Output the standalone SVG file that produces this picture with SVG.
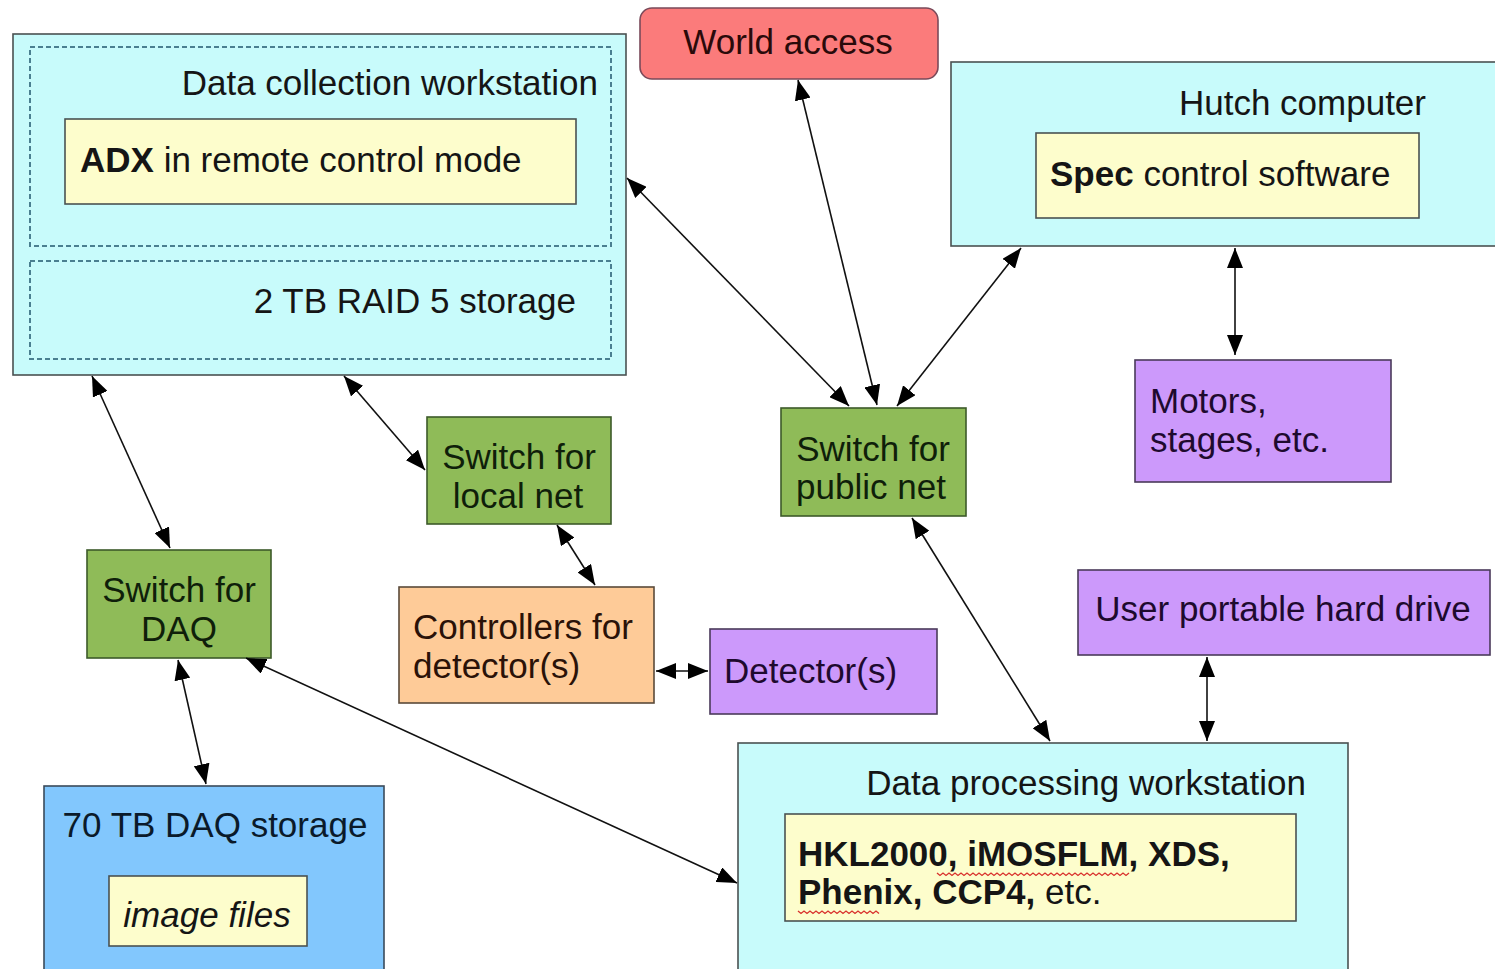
<svg xmlns="http://www.w3.org/2000/svg" width="1495" height="969" viewBox="0 0 1495 969">
  <style>
    text { font-family: "Liberation Sans", Arial, sans-serif; font-size: 35px; fill: #151515; }
    .b { font-weight: bold; }
    .it { font-style: italic; }
    .mid { text-anchor: middle; }
    .end { text-anchor: end; }
    .box { stroke: #4a5252; stroke-width: 1.6; }
    .cyan { fill: #c8fbfb; }
    .yel { fill: #fdfdcc; }
    .green { fill: #8fbb58; stroke: #3c5a2a; stroke-width: 1.6; }
    .purple { fill: #cc99fb; stroke: #4a3a5a; stroke-width: 1.6; }
    .orange { fill: #fecb98; stroke: #5a4a3a; stroke-width: 1.6; }
    .blue { fill: #82c7fd; stroke: #3a4a5a; stroke-width: 1.6; }
    .red { fill: #fb7b7b; stroke: #7a4a5a; stroke-width: 1.6; }
    .dash { fill: none; stroke: #4a7f90; stroke-width: 2; stroke-dasharray: 5 3; }
    .wave { fill: none; stroke: #d8302c; stroke-width: 1.3; }
    .conn line { stroke: #111; stroke-width: 1.6; marker-start: url(#ah); marker-end: url(#ah); }
  </style>
  <defs>
    <marker id="ah" viewBox="0 0 20 16" refX="20" refY="8" markerWidth="20" markerHeight="16" markerUnits="userSpaceOnUse" orient="auto-start-reverse">
      <path d="M0,0 L20,8 L0,16 Z" fill="#000"/>
    </marker>
  </defs>

  <rect width="1495" height="969" fill="#ffffff"/>

  <!-- Data collection workstation -->
  <g id="data-collection">
    <rect class="box cyan" x="13" y="34" width="613" height="341"/>
    <rect class="dash" x="30" y="47" width="581" height="199"/>
    <rect class="dash" x="30" y="261" width="581" height="98"/>
    <text class="end" x="598" y="95">Data collection workstation</text>
    <rect class="box yel" x="65" y="119" width="511" height="85"/>
    <text x="80" y="172"><tspan class="b">ADX</tspan> in remote control mode</text>
    <text class="end" x="576" y="313">2 TB RAID 5 storage</text>
  </g>

  <!-- World access -->
  <g id="world-access">
    <rect class="red" x="640" y="8" width="298" height="71" rx="12"/>
    <text class="mid" x="788" y="54" style="fill:#2a0a0a">World access</text>
  </g>

  <!-- Hutch computer -->
  <g id="hutch-computer">
    <rect class="box cyan" x="951" y="62" width="560" height="184"/>
    <text class="end" x="1426" y="115">Hutch computer</text>
    <rect class="box yel" x="1036" y="133" width="383" height="85"/>
    <text x="1050" y="186"><tspan class="b">Spec</tspan> control software</text>
  </g>

  <!-- Motors -->
  <g id="motors">
    <rect class="purple" x="1135" y="360" width="256" height="122"/>
    <text x="1150" y="413" style="fill:#1e0a2e">Motors,</text>
    <text x="1150" y="452" style="fill:#1e0a2e">stages, etc.</text>
  </g>

  <!-- Switch for public net -->
  <g id="switch-public">
    <rect class="green" x="781" y="408" width="185" height="108"/>
    <text class="mid" x="873" y="461" style="fill:#0f1f0a">Switch for</text>
    <text class="mid" x="871" y="499" style="fill:#0f1f0a">public net</text>
  </g>

  <!-- Switch for local net -->
  <g id="switch-local">
    <rect class="green" x="427" y="417" width="184" height="107"/>
    <text class="mid" x="519" y="469" style="fill:#0f1f0a">Switch for</text>
    <text class="mid" x="518" y="508" style="fill:#0f1f0a">local net</text>
  </g>

  <!-- Switch for DAQ -->
  <g id="switch-daq">
    <rect class="green" x="87" y="550" width="184" height="108"/>
    <text class="mid" x="179" y="602" style="fill:#0f1f0a">Switch for</text>
    <text class="mid" x="179" y="641" style="fill:#0f1f0a">DAQ</text>
  </g>

  <!-- Controllers for detectors -->
  <g id="controllers">
    <rect class="orange" x="399" y="587" width="255" height="116"/>
    <text x="413" y="639" style="fill:#2a1208">Controllers for</text>
    <text x="413" y="678" style="fill:#2a1208">detector(s)</text>
  </g>

  <!-- Detectors -->
  <g id="detectors">
    <rect class="purple" x="710" y="629" width="227" height="85"/>
    <text x="724" y="683" style="fill:#1e0a2e">Detector(s)</text>
  </g>

  <!-- User portable hard drive -->
  <g id="user-drive">
    <rect class="purple" x="1078" y="570" width="412" height="85"/>
    <text class="mid" x="1283" y="621" style="fill:#1e0a2e">User portable hard drive</text>
  </g>

  <!-- Data processing workstation -->
  <g id="data-processing">
    <rect class="box cyan" x="738" y="743" width="610" height="240"/>
    <text class="end" x="1306" y="795">Data processing workstation</text>
    <rect class="box yel" x="785" y="814" width="511" height="107"/>
    <text class="b" x="798" y="866">HKL2000, iMOSFLM, XDS,</text>
    <text x="798" y="904"><tspan class="b">Phenix, CCP4,</tspan> etc.</text>
    <!-- spell-check squiggles -->
    <path class="wave" d="M937,873 l3,2.5 l3,-2.5 l3,2.5 l3,-2.5 l3,2.5 l3,-2.5 l3,2.5 l3,-2.5 l3,2.5 l3,-2.5 l3,2.5 l3,-2.5 l3,2.5 l3,-2.5 l3,2.5 l3,-2.5 l3,2.5 l3,-2.5 l3,2.5 l3,-2.5 l3,2.5 l3,-2.5 l3,2.5 l3,-2.5 l3,2.5 l3,-2.5 l3,2.5 l3,-2.5 l3,2.5 l3,-2.5 l3,2.5 l3,-2.5 l3,2.5 l3,-2.5 l3,2.5 l3,-2.5 l3,2.5 l3,-2.5 l3,2.5 l3,-2.5 l3,2.5 l3,-2.5 l3,2.5 l3,-2.5 l3,2.5 l3,-2.5 l3,2.5 l3,-2.5 l3,2.5 l3,-2.5 l3,2.5 l3,-2.5 l3,2.5 l3,-2.5 l3,2.5 l3,-2.5 l3,2.5 l3,-2.5 l3,2.5 l3,-2.5 l3,2.5 l3,-2.5 l3,2.5 l3,-2.5"/>
    <path class="wave" d="M798,911 l3,2.5 l3,-2.5 l3,2.5 l3,-2.5 l3,2.5 l3,-2.5 l3,2.5 l3,-2.5 l3,2.5 l3,-2.5 l3,2.5 l3,-2.5 l3,2.5 l3,-2.5 l3,2.5 l3,-2.5 l3,2.5 l3,-2.5 l3,2.5 l3,-2.5 l3,2.5 l3,-2.5 l3,2.5 l3,-2.5 l3,2.5 l3,-2.5 l3,2.5"/>
  </g>

  <!-- 70 TB DAQ storage -->
  <g id="daq-storage">
    <rect class="blue" x="44" y="786" width="340" height="200"/>
    <text class="mid" x="215" y="837" style="fill:#0a1a2a">70 TB DAQ storage</text>
    <rect class="box yel" x="109" y="876" width="198" height="70"/>
    <text class="mid it" x="207" y="927">image files</text>
  </g>

  <!-- Connectors: all links are bidirectional -->
  <g id="connectors" class="conn">
    <line x1="627" y1="178" x2="849" y2="406"/>
    <line x1="798" y1="80" x2="877" y2="405"/>
    <line x1="1021" y1="248" x2="897" y2="406"/>
    <line x1="1235" y1="248" x2="1235" y2="355"/>
    <line x1="92" y1="376" x2="170" y2="548"/>
    <line x1="344" y1="376" x2="425" y2="470"/>
    <line x1="557" y1="525" x2="595" y2="585"/>
    <line x1="656" y1="671" x2="708" y2="671"/>
    <line x1="178" y1="660" x2="206" y2="784"/>
    <line x1="246" y1="658" x2="737" y2="883"/>
    <line x1="912" y1="518" x2="1050" y2="741"/>
    <line x1="1207" y1="657" x2="1207" y2="741"/>
  </g>
</svg>
